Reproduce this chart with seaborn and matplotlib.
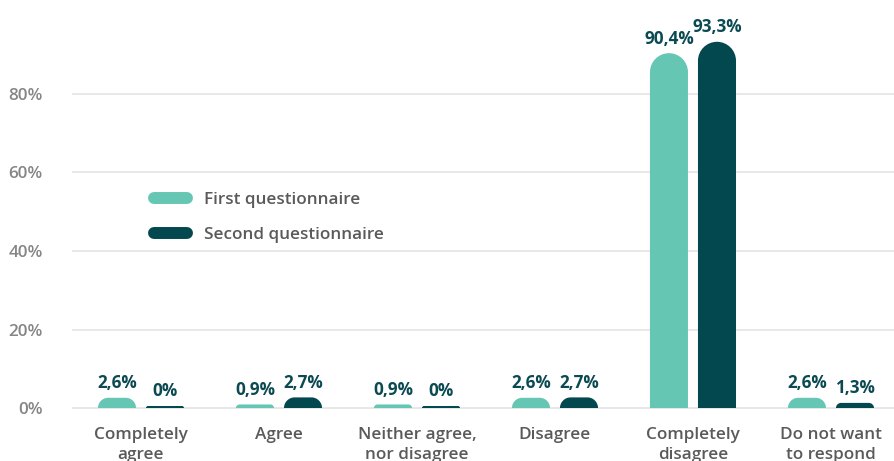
import numpy as np
import pandas as pd
import matplotlib
matplotlib.use("Agg")
import matplotlib.pyplot as plt
import seaborn as sns
from matplotlib.path import Path
from matplotlib.patches import PathPatch
from matplotlib.lines import Line2D

categories = ["Completely\nagree", "Agree", "Neither agree,\nnor disagree",
              "Disagree", "Completely\ndisagree", "Do not want\nto respond"]
series_names = ["First questionnaire", "Second questionnaire"]
first_values = [2.6, 0.9, 0.9, 2.6, 90.4, 2.6]
second_values = [0.0, 2.7, 0.0, 2.7, 93.3, 1.3]
y_ticks = [0, 20, 40, 60, 80]

LIGHT = "#66C6B4"
DARK = "#03474F"
LABEL = "#0B4A52"
TICK_X = "#5A5A5A"
TICK_Y = "#858585"
TEXT_WEIGHT = "semibold"
TEXT_SIZE = 12.3

df = pd.DataFrame({
    "category": categories * 2,
    "series": [series_names[0]] * len(categories) + [series_names[1]] * len(categories),
    "value": first_values + second_values,
})

sns.set_theme(style="white")
plt.rcParams["font.family"] = ["Open Sans", "DejaVu Sans"]

W, H, DPI = 895, 461, 100
fig = plt.figure(figsize=(W / DPI, H / DPI), dpi=DPI)

# axes geometry in pixels
x0_px, x1_px = 72, 895
base_px = 408          # pixel row of the zero line
px_per_pct = 3.925
ymin, ymax = -0.6, 104
bottom_px = base_px - ymin * px_per_pct
top_px = base_px - ymax * px_per_pct
ax = fig.add_axes([x0_px / W, (H - bottom_px) / H,
                   (x1_px - x0_px) / W, (bottom_px - top_px) / H])

sns.barplot(data=df, x="category", y="value", hue="series",
            palette=[LIGHT, DARK], width=0.696, gap=0.208,
            legend=False, ax=ax, saturation=1)

ax.set_xlim(-0.5, 5.464)
ax.set_ylim(ymin, ymax)

for s in ax.spines.values():
    s.set_visible(False)
ax.set_axisbelow(True)
ax.yaxis.grid(True, color="#E6E6E6", linewidth=1.3)
ax.xaxis.grid(False)
ax.set_yticks(y_ticks)
ax.set_yticklabels([f"{t}%" for t in y_ticks])
ax.tick_params(axis="y", length=0, pad=21, labelsize=TEXT_SIZE, labelcolor=TICK_Y)
ax.tick_params(axis="x", length=0, pad=12, labelsize=TEXT_SIZE, labelcolor=TICK_X)
for t in ax.get_xticklabels() + ax.get_yticklabels():
    t.set_fontweight(TEXT_WEIGHT)
for t in ax.get_xticklabels():
    t.set_linespacing(1.35)
ax.set_xlabel("")
ax.set_ylabel("")

# pixel scale of data units
p0 = ax.transData.transform((0, 0))
p1 = ax.transData.transform((1, 1))
sx = p1[0] - p0[0]
sy = p1[1] - p0[1]
K = 0.5523


def rounded_bar_path(x, w, h):
    h_px = max(h * sy, 2.0)
    hh = h_px / sy
    r_px = min(w * sx / 2, h_px)
    rx, ry = r_px / sx, r_px / sy
    verts = [
        (x, 0), (x, hh - ry),
        (x, hh - ry + K * ry), (x + rx - K * rx, hh), (x + rx, hh),
        (x + w - rx, hh),
        (x + w - rx + K * rx, hh), (x + w, hh - ry + K * ry), (x + w, hh - ry),
        (x + w, 0), (x, 0),
    ]
    codes = [Path.MOVETO, Path.LINETO,
             Path.CURVE4, Path.CURVE4, Path.CURVE4,
             Path.LINETO,
             Path.CURVE4, Path.CURVE4, Path.CURVE4,
             Path.LINETO, Path.CLOSEPOLY]
    return Path(verts, codes), hh


bars = list(ax.patches)
for bar in bars:
    x, w, h = bar.get_x(), bar.get_width(), bar.get_height()
    color = bar.get_facecolor()
    bar.set_visible(False)
    path, hh = rounded_bar_path(x, w, h)
    ax.add_patch(PathPatch(path, facecolor=color, edgecolor="none", zorder=3))
    txt = "0%" if h == 0 else f"{h:.1f}%".replace(".", ",")
    ax.annotate(txt, (x + w / 2, hh), xytext=(0, 4), textcoords="offset points",
                ha="center", va="bottom", fontsize=12.3, fontweight="bold",
                color=LABEL, annotation_clip=False)

handles = [Line2D([0], [0], color=c, lw=8.6, solid_capstyle="round")
           for c in (LIGHT, DARK)]
fs_px = TEXT_SIZE * DPI / 72
leg = ax.legend(handles, series_names, loc="upper left",
                bbox_to_anchor=(154 / W, 1 - 192 / H), bbox_transform=fig.transFigure,
                frameon=False, fontsize=TEXT_SIZE, handlelength=33 / fs_px,
                handletextpad=17 / fs_px, labelspacing=1.1,
                borderpad=0, borderaxespad=0)
for t in leg.get_texts():
    t.set_color(TICK_X)
    t.set_fontweight(TEXT_WEIGHT)

fig.savefig("out.png", dpi=DPI)
